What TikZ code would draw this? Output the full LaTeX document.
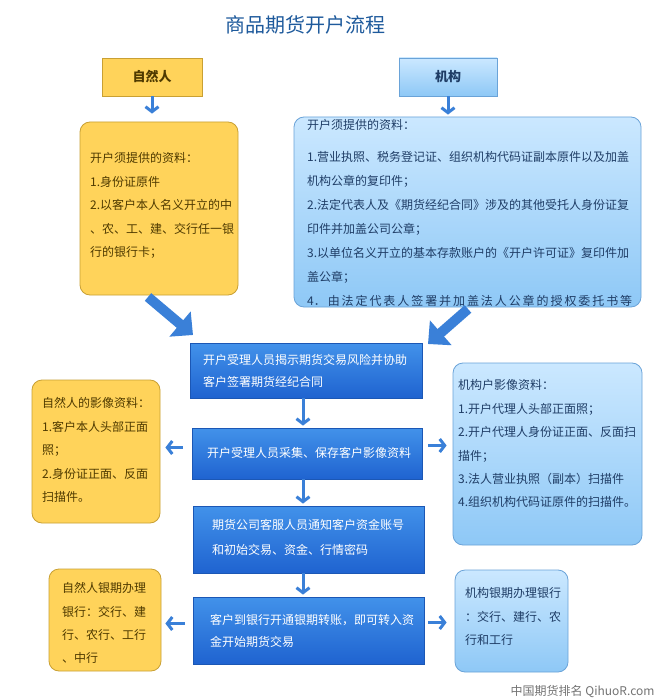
\documentclass[tikz,border=0pt]{standalone}
\usepackage{fontspec}
\setmainfont{Noto Sans CJK SC}
\usetikzlibrary{arrows.meta}
\definecolor{yfill}{HTML}{FFD35A}
\definecolor{yborder}{HTML}{C9A033}
\definecolor{ytext}{HTML}{4F3A00}
\definecolor{btop}{HTML}{CBE8FF}
\definecolor{bbot}{HTML}{8EC8F6}
\definecolor{bborder}{HTML}{6AA3D8}
\definecolor{btext}{HTML}{1F3D66}
\definecolor{ptop}{HTML}{4292EA}
\definecolor{pbot}{HTML}{1F63D0}
\definecolor{pborder}{HTML}{1B57B5}
\definecolor{arr}{HTML}{3A80D8}
\definecolor{ttl}{HTML}{1E5A9C}
\begin{document}
\begin{tikzpicture}[x=1pt,y=-1pt,
 ybox/.style={draw=yborder, fill=yfill, rounded corners=10pt, line width=0.8pt, inner sep=0pt},
 bbox/.style={draw=bborder, top color=btop, bottom color=bbot, rounded corners=10pt, line width=0.8pt, inner sep=0pt},
 pbox/.style={draw=pborder, top color=ptop, bottom color=pbot, line width=0.8pt, inner sep=0pt},
 txt/.style={anchor=north west, inner sep=0pt, align=left, font=\fontsize{12pt}{#1}\selectfont},
 sarr/.style={draw=arr, line width=3pt, -{Straight Barb[length=5pt,width=13pt]}},
 barr/.style={draw=arr, line width=10pt, -{Triangle[length=17pt,width=32pt]}}
]
\useasboundingbox (0,0) rectangle (661,700);
\fill[white] (0,0) rectangle (661,700);

% title
\node[text=ttl, font=\fontsize{20pt}{24pt}\selectfont] (title) at (305,25) {商品期货开户流程};

% header boxes
\node[draw=yborder, fill=yfill, line width=0.8pt, minimum width=100pt, minimum height=38pt,
      text=ytext, font=\fontsize{13pt}{15pt}\selectfont\bfseries] (jr) at (152,77) {自然人};
\node[draw=bborder, top color=btop, bottom color=bbot, line width=0.8pt, minimum width=98pt, minimum height=38pt,
      text=btext, font=\fontsize{13pt}{15pt}\selectfont\bfseries] (jg) at (448,77) {机构};

% material boxes
\node[ybox, minimum width=158pt, minimum height=173pt] (y1) at (159,208.5) {};
\node[txt=23.5pt, text=ytext] (y1t) at (90,152.5) {开户须提供的资料：\\1.身份证原件\\2.以客户本人名义开立的中\\、农、工、建、交行任一银\\行的银行卡；};

\node[bbox, minimum width=347pt, minimum height=190pt] (b1) at (467.5,212) {};
\node[txt=24pt, text=btext] (b1t) at (307,119.5) {开户须提供的资料：\\[8pt]1.营业执照、税务登记证、组织机构代码证副本原件以及加盖\\机构公章的复印件；\\2.法定代表人及《期货经纪合同》涉及的其他受托人身份证复\\印件并加盖公司公章；\\3.以单位名义开立的基本存款账户的《开户许可证》复印件加\\盖公章；\\\makebox[325pt][s]{4．\hfill 由\hfill 法\hfill 定\hfill 代\hfill 表\hfill 人\hfill 签\hfill 署\hfill 并\hfill 加\hfill 盖\hfill 法\hfill 人\hfill 公\hfill 章\hfill 的\hfill 授\hfill 权\hfill 委\hfill 托\hfill 书\hfill 等}};

% process boxes
\node[pbox, minimum width=232pt, minimum height=55pt] (p1) at (306,370.5) {};
\node[txt=22pt, text=white] (p1t) at (203,354.5) {开户受理人员揭示期货交易风险并协助\\客户签署期货经纪合同};

\node[pbox, minimum width=230pt, minimum height=51pt] (p2) at (307,453.5) {};
\node[txt=22pt, text=white] (p2t) at (207,447.5) {开户受理人员采集、保存客户影像资料};

\node[pbox, minimum width=231pt, minimum height=67pt] (p3) at (308.5,539.5) {};
\node[txt=25pt, text=white] (p3t) at (212,519.5) {期货公司客服人员通知客户资金账号\\和初始交易、资金、行情密码};

\node[pbox, minimum width=231pt, minimum height=67pt] (p4) at (308.5,630.5) {};
\node[txt=22pt, text=white] (p4t) at (210,614.5) {客户到银行开通银期转账，即可转入资\\金开始期货交易};

% side boxes
\node[ybox, minimum width=128pt, minimum height=143pt] (y2) at (96,451.5) {};
\node[txt=23.5pt, text=ytext] (y2t) at (42,397.5) {自然人的影像资料：\\1.客户本人头部正面\\照；\\2.身份证正面、反面\\扫描件。};

\node[bbox, minimum width=189pt, minimum height=182pt] (b2) at (547.5,454) {};
\node[txt=23.4pt, text=btext] (b2t) at (458,379.5) {机构户影像资料：\\1.开户代理人头部正面照；\\2.开户代理人身份证正面、反面扫\\描件；\\3.法人营业执照（副本）扫描件\\4.组织机构代码证原件的扫描件。};

\node[ybox, minimum width=112pt, minimum height=102pt] (y3) at (105,620) {};
\node[txt=23.3pt, text=ytext] (y3t) at (62,582.5) {自然人银期办理\\银行：交行、建\\行、农行、工行\\、中行};

\node[bbox, minimum width=113pt, minimum height=102pt] (b3) at (511.5,621) {};
\node[txt=23.5pt, text=btext] (b3t) at (465,587.5) {机构银期办理银行\\：交行、建行、农\\行和工行};

% watermark
\node[anchor=east, text=black!55, font=\fontsize{12pt}{14pt}\selectfont] (wm) at (658,692) {中国期货排名 QihuoR.com};

% arrows
\draw[sarr, shorten >=8pt] (jr.south) -- (jr.south |- y1.north);
\draw[sarr, shorten >=2pt] (jg.south) -- (jg.south |- b1.north);
\coordinate (d1s) at (148,297);
\coordinate (d1e) at (193,335);
\coordinate (d2s) at (468,309);
\coordinate (d2e) at (428,344);
\draw[barr] (d1s) -- (d1e);
\draw[barr] (d2s) -- (d2e);
\draw[sarr, shorten >=2pt] (p1.south -| 303,0) -- (p2.north -| 303,0);
\draw[sarr, shorten >=2pt] (p2.south -| 303,0) -- (p3.north -| 303,0);
\draw[sarr, shorten >=2pt] (p3.south -| 303,0) -- (p4.north -| 303,0);
\draw[sarr, shorten <=9pt, shorten >=5pt] ([yshift=6pt]p2.west) -- ([yshift=6pt]p2.west -| y2.east);
\draw[sarr, shorten <=6pt, shorten >=6pt] ([yshift=8pt]p2.east) -- ([yshift=8pt]p2.east -| b2.west);
\draw[sarr, shorten <=8pt, shorten >=4pt] ([yshift=7pt]p4.west) -- ([yshift=7pt]p4.west -| y3.east);
\draw[sarr, shorten <=4pt, shorten >=8pt] ([yshift=8pt]p4.east) -- ([yshift=8pt]p4.east -| b3.west);
\end{tikzpicture}
\end{document}
